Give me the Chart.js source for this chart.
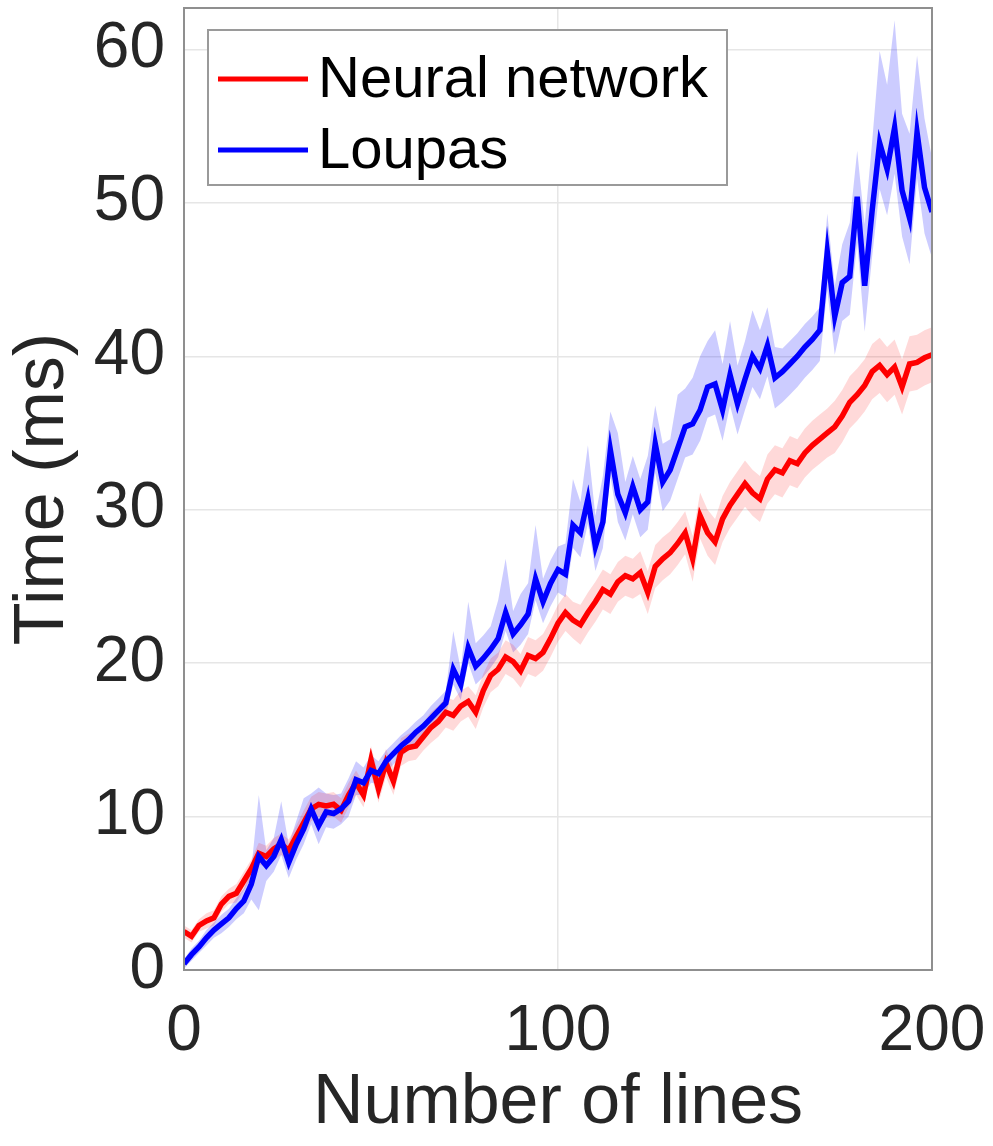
<!DOCTYPE html>
<html>
<head>
<meta charset="utf-8">
<script src="https://cdn.jsdelivr.net/npm/chart.js@4.4.0/dist/chart.umd.min.js"></script>
<style>
html,body{margin:0;padding:0;background:#fff;}
#wrap{width:993px;height:1146px;position:relative;}
canvas{display:block;}
</style>
</head>
<body>
<div id="wrap"><canvas id="c" width="993" height="1146"></canvas></div>
<script>
// ---- data ----
const lineCounts = [0,2,4,6,8,10,12,14,16,18,20,22,24,26,28,30,32,34,36,38,40,42,44,46,48,50,52,54,56,58,60,62,64,66,68,70,72,74,76,78,80,82,84,86,88,90,92,94,96,98,100,102,104,106,108,110,112,114,116,118,120,122,124,126,128,130,132,134,136,138,140,142,144,146,148,150,152,154,156,158,160,162,164,166,168,170,172,174,176,178,180,182,184,186,188,190,192,194,196,198,200];

const neuralTime = [2.5,2.2,2.9,3.2,3.4,4.3,4.8,5.0,5.8,6.6,
  7.6,7.4,7.9,8.2,7.8,8.7,9.6,10.5,10.8,10.7,
  10.8,10.4,11.4,12.2,11.4,13.7,11.8,13.5,12.3,14.2,
  14.5,14.6,15.2,15.8,16.2,16.8,16.6,17.2,17.5,16.8,
  18.2,19.2,19.6,20.4,20.1,19.5,20.5,20.3,20.7,21.6,
  22.6,23.3,22.8,22.5,23.3,24.0,24.8,24.5,25.3,25.7,
  25.5,25.9,24.6,26.3,26.8,27.2,27.8,28.5,26.8,29.6,
  28.5,27.9,29.4,30.3,31.0,31.7,31.1,30.7,32.0,32.6,
  32.4,33.2,33.0,33.7,34.2,34.6,35.0,35.4,36.1,37.0,
  37.5,38.1,39.0,39.4,38.8,39.3,38.0,39.5,39.6,39.9,40.1];

const loupasTime = [0.4,1.0,1.5,2.1,2.6,3.0,3.4,4.0,4.5,5.6,
  7.4,6.8,7.4,8.5,7.0,8.2,9.2,10.5,9.4,10.3,
  10.2,10.5,11.0,12.4,12.2,13.0,12.8,13.6,14.1,14.6,
  15.0,15.5,15.9,16.4,16.9,17.4,19.6,18.6,21.0,19.8,
  20.3,20.9,21.6,23.3,21.9,22.5,23.2,25.5,24.0,25.2,
  26.1,25.8,29.0,28.5,30.7,27.6,29.2,33.9,31.0,29.8,
  31.5,30.0,30.5,34.3,31.8,32.6,34.0,35.4,35.6,36.5,
  38.0,38.2,36.5,38.8,36.9,38.5,40.0,39.2,40.7,38.6,
  39.0,39.5,40.0,40.6,41.1,41.7,46.8,42.6,44.8,45.2,
  50.4,44.6,49.5,53.9,52.2,54.9,50.8,49.0,54.6,51.0,49.4];

const neuralSpread = [0.4,0.4,0.4,0.5,0.5,0.5,0.5,0.6,0.6,0.6,
  0.7,0.7,0.7,0.7,0.7,0.7,0.8,0.8,0.8,0.8,
  0.8,0.8,0.8,0.8,0.8,0.9,0.9,0.9,0.9,0.9,
  0.9,0.9,0.9,1.0,1.0,1.0,1.0,1.0,1.0,1.1,
  1.1,1.1,1.1,1.1,1.1,1.1,1.2,1.2,1.2,1.2,
  1.2,1.2,1.2,1.3,1.3,1.3,1.3,1.3,1.3,1.3,
  1.3,1.4,1.4,1.4,1.4,1.4,1.4,1.4,1.5,1.5,
  1.5,1.5,1.5,1.5,1.5,1.5,1.5,1.5,1.6,1.6,
  1.6,1.6,1.6,1.6,1.6,1.6,1.6,1.7,1.7,1.7,
  1.7,1.7,1.8,1.8,1.8,1.8,1.8,1.8,1.8,1.8,1.8];

const loupasSpreadUp = [0.3,0.4,0.4,0.5,0.5,0.6,0.6,0.7,0.8,1.0,
  4.0,1.0,1.2,2.5,1.2,1.5,2.0,1.0,2.5,1.2,
  1.2,1.0,1.5,1.2,1.0,1.0,0.8,0.7,0.7,0.7,
  0.7,0.7,0.7,0.8,0.8,0.8,2.5,1.0,3.0,1.5,
  1.5,1.5,2.5,3.5,1.5,2.0,2.0,3.5,1.5,1.5,
  1.5,2.0,3.0,2.0,3.5,2.0,3.0,2.5,4.0,2.0,
  2.0,2.0,3.0,2.5,2.5,2.0,3.5,2.5,3.0,3.5,
  3.0,3.5,3.0,3.5,2.5,2.5,3.0,2.5,2.5,2.0,
  1.5,1.5,1.5,1.5,1.5,1.5,2.5,2.0,2.5,3.5,
  3.0,4.0,4.5,6.0,5.5,7.0,5.0,5.5,5.0,4.5,3.5];

const loupasSpreadDown = [0.3,0.4,0.4,0.5,0.5,0.6,0.6,0.7,0.8,1.0,
  3.5,1.0,1.0,1.0,1.0,1.0,1.0,1.0,1.2,1.0,
  1.0,1.0,1.0,1.0,0.8,0.8,0.7,0.7,0.7,0.7,
  0.7,0.7,0.7,0.8,0.8,0.8,1.0,1.0,1.0,1.2,
  1.2,1.2,1.2,1.2,1.2,1.3,1.3,1.4,1.4,1.5,
  1.5,1.5,1.5,1.6,1.6,1.6,1.7,1.7,1.8,1.8,
  1.8,1.8,1.8,1.9,1.9,2.0,2.0,2.0,2.0,2.0,
  2.0,2.0,2.0,2.0,2.0,2.0,2.0,2.0,2.0,2.0,
  2.0,2.0,2.0,2.0,2.0,2.0,2.5,2.5,2.5,2.5,
  3.0,3.0,3.0,3.0,3.0,3.0,3.0,3.0,3.0,3.0,3.0];

const seriesNames = ['Neural network', 'Loupas'];
const xTickValues = [0, 100, 200];
const yTickValues = [0, 10, 20, 30, 40, 50, 60];

// ---- build library datasets ----
const pts = (arr) => arr.map((v, i) => ({ x: lineCounts[i], y: v }));
const neuralLow  = pts(neuralTime.map((v, i) => v - neuralSpread[i]));
const neuralHigh = pts(neuralTime.map((v, i) => v + neuralSpread[i]));
const loupasLow  = pts(loupasTime.map((v, i) => v - loupasSpreadDown[i]));
const loupasHigh = pts(loupasTime.map((v, i) => v + loupasSpreadUp[i]));

const FONT = "'Liberation Sans', Arial, Helvetica, sans-serif";
const TXT = '#262626';
const RED = '#ff0000';
const BLUE = '#0000ff';

const boxLegendPlugin = {
  id: 'boxLegend',
  afterDraw(chart) {
    const { ctx, chartArea: a } = chart;
    ctx.save();
    // axes box
    ctx.strokeStyle = '#8f8f8f';
    ctx.lineWidth = 2;
    ctx.strokeRect(a.left, a.top, a.right - a.left, a.bottom - a.top);
    // legend box
    const lx = a.left + 24, ly = a.top + 22, lw = 519, lh = 155;
    ctx.fillStyle = '#ffffff';
    ctx.fillRect(lx, ly, lw, lh);
    ctx.strokeStyle = '#9a9a9a';
    ctx.lineWidth = 2;
    ctx.strokeRect(lx, ly, lw, lh);
    const items = [
      { name: seriesNames[0], color: RED, y: ly + 49 },
      { name: seriesNames[1], color: BLUE, y: ly + 120 }
    ];
    ctx.font = '58px ' + FONT;
    ctx.textBaseline = 'middle';
    ctx.textAlign = 'left';
    items.forEach(it => {
      ctx.strokeStyle = it.color;
      ctx.lineWidth = 5;
      ctx.beginPath();
      ctx.moveTo(lx + 10, it.y);
      ctx.lineTo(lx + 100, it.y);
      ctx.stroke();
      ctx.fillStyle = '#000000';
      ctx.fillText(it.name, lx + 110, it.y + 2);
    });
    ctx.restore();
  }
};

new Chart(document.getElementById('c'), {
  type: 'line',
  data: {
    datasets: [
      { label: 'Loupas low', data: loupasLow, borderWidth: 0, pointRadius: 0, fill: false, order: 6 },
      { label: 'Loupas high', data: loupasHigh, borderWidth: 0, pointRadius: 0, fill: '-1', backgroundColor: 'rgba(0,0,255,0.2)', order: 5 },
      { label: 'Neural low', data: neuralLow, borderWidth: 0, pointRadius: 0, fill: false, order: 4 },
      { label: 'Neural high', data: neuralHigh, borderWidth: 0, pointRadius: 0, fill: '-1', backgroundColor: 'rgba(255,0,0,0.15)', order: 3 },
      { label: seriesNames[0], data: pts(neuralTime), borderColor: RED, borderWidth: 5.5, pointRadius: 0, fill: false, tension: 0, order: 2 },
      { label: seriesNames[1], data: pts(loupasTime), borderColor: BLUE, borderWidth: 5.5, pointRadius: 0, fill: false, tension: 0, order: 1 }
    ]
  },
  options: {
    responsive: false,
    animation: false,
    devicePixelRatio: 1,
    layout: { padding: { top: 8, right: 61, left: 0, bottom: 0 } },
    plugins: { legend: { display: false }, tooltip: { enabled: false } },
    scales: {
      x: {
        type: 'linear', min: 0, max: 200,
        afterBuildTicks: (s) => { s.ticks = xTickValues.map(v => ({ value: v })); },
        afterFit: (s) => { s.height = 176; s.paddingLeft = 0; s.paddingRight = 0; },
        ticks: { font: { family: FONT, size: 64 }, color: TXT, padding: 24, maxRotation: 0, autoSkip: false },
        grid: { color: '#e6e6e6', lineWidth: 1.5, drawTicks: false },
        border: { display: false },
        title: { display: true, text: 'Number of lines', color: TXT, font: { family: FONT, size: 70, lineHeight: 1.2 }, padding: { top: 0, bottom: 0 } }
      },
      y: {
        type: 'linear', min: 0, max: 62.7,
        afterBuildTicks: (s) => { s.ticks = yTickValues.map(v => ({ value: v })); },
        afterFit: (s) => { s.width = 184; s.paddingTop = 0; s.paddingBottom = 0; },
        ticks: { font: { family: FONT, size: 64 }, color: TXT, padding: 19, autoSkip: false },
        grid: { color: '#e6e6e6', lineWidth: 1.5, drawTicks: false },
        border: { display: false },
        title: { display: true, text: 'Time (ms)', color: TXT, font: { family: FONT, size: 70, lineHeight: 1.2 }, padding: { top: 2, bottom: 0 } }
      }
    }
  },
  plugins: [boxLegendPlugin]
});
</script>
</body>
</html>
